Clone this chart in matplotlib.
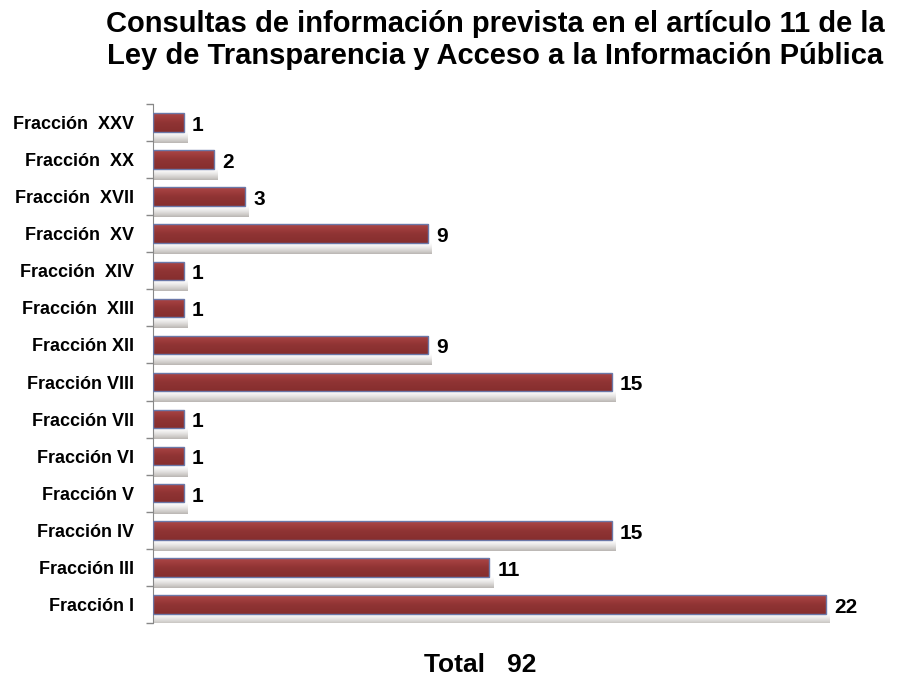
import matplotlib
matplotlib.use("Agg")
import matplotlib.pyplot as plt
import numpy as np
from matplotlib.colors import LinearSegmentedColormap

plt.rcParams['font.family'] = ['Liberation Sans', 'DejaVu Sans']

categories = ["Fracción I", "Fracción III", "Fracción IV", "Fracción V", "Fracción VI",
              "Fracción VII", "Fracción VIII", "Fracción XII", "Fracción XIII", "Fracción XIV",
              "Fracción XV", "Fracción XVII", "Fracción XX", "Fracción XXV"]
tick_labels = ["Fracción I", "Fracción III", "Fracción IV", "Fracción V", "Fracción VI",
               "Fracción VII", "Fracción VIII", "Fracción XII", "Fracción  XIII", "Fracción  XIV",
               "Fracción  XV", "Fracción  XVII", "Fracción  XX", "Fracción  XXV"]
values = [22, 11, 15, 1, 1, 1, 15, 9, 1, 1, 9, 3, 2, 1]
title = "Consultas de información prevista en el artículo 11 de la\nLey de Transparencia y Acceso a la Información Pública"
total_text = "Total   92"

fig = plt.figure(figsize=(9.07, 6.77), dpi=100)
ax = fig.add_axes([0.1687, 0.0798, 0.978 - 0.1687, 0.8464 - 0.0798])

y = np.arange(len(categories))
h = 0.50

bars = ax.barh(y, values, height=h, color='#8e3434', edgecolor='#6b78a8', linewidth=1.0, zorder=3)

cmap = LinearSegmentedColormap.from_list('g', ['#862e2e', '#903434', '#ad4646'])
grad = np.linspace(0, 1, 64).reshape(-1, 1)
shadow = np.zeros((64, 1, 4))
shadow[..., 0] = 0.48
shadow[..., 1] = 0.45
shadow[..., 2] = 0.42
shadow[:, 0, 3] = np.linspace(0.65, 0.0, 64) ** 1.5
for b in bars:
    x0, y0 = b.get_x(), b.get_y()
    w, hh = b.get_width(), b.get_height()
    # soft shadow below the bar
    ax.imshow(shadow, aspect='auto', extent=[x0, x0 + w + 0.12, y0 + 0.02, y0 - 0.3],
              origin='upper', zorder=1, interpolation='bilinear')
    im = ax.imshow(grad, cmap=cmap, aspect='auto', extent=[x0, x0 + w, y0 + hh, y0],
                   origin='upper', zorder=2.5)
    im.set_clip_path(b)
    b.set_facecolor('none')
    b.set_zorder(4)

for yi, v in zip(y, values):
    ax.annotate(str(v), (v, yi), xytext=(6, -2), textcoords='offset points',
                ha='left', va='center', fontsize=15, fontweight='bold', color='black')

ax.set_xlim(0, 24)
ax.set_ylim(-0.5, len(categories) - 0.5)
ax.set_yticks(y)
ax.set_yticklabels(tick_labels, fontsize=13, fontweight='bold')
ax.tick_params(axis='y', which='major', length=0, pad=14)
ax.set_yticks(np.arange(-0.5, len(categories), 1.0), minor=True)
ax.tick_params(axis='y', which='minor', length=5, color='#888888', width=1)
ax.set_xticks([])
for s in ['top', 'right', 'bottom']:
    ax.spines[s].set_visible(False)
ax.spines['left'].set_color('#888888')

fig.text(0.546, 0.941, title, ha='center', va='center', fontsize=21, fontweight='bold',
         linespacing=1.2)
fig.text(0.529, 0.018, total_text, ha='center', va='center', fontsize=19, fontweight='bold')

fig.savefig("out.png", dpi=100)
